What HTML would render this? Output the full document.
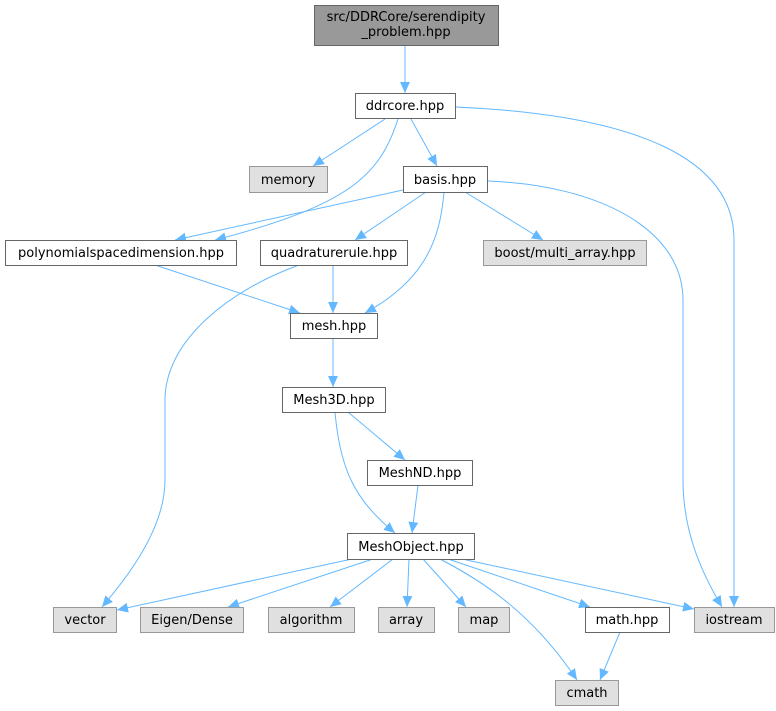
<!DOCTYPE html>
<html><head><meta charset="utf-8"><style>
html,body{margin:0;padding:0;background:#fff;}
svg{display:block;}
text{font-family:"DejaVu Sans","Liberation Sans",sans-serif;font-size:13px;fill:#000;text-anchor:middle;}
.w{fill:#fff;stroke:#666;stroke-width:1;}
.g{fill:#e0e0e0;stroke:#999;stroke-width:1;}
.e{fill:none;stroke:#63b8ff;stroke-width:1;}
</style></head><body>
<svg width="776" height="711" viewBox="0 0 776 711" xmlns="http://www.w3.org/2000/svg">
<defs><marker id="a" viewBox="0 0 10 10" refX="10" refY="5" markerWidth="11" markerHeight="11" markerUnits="userSpaceOnUse" orient="auto"><path d="M0,0.5 L10,5 L0,9.5 Z" fill="#63b8ff"/></marker></defs>
<g marker-end="url(#a)">
<path class="e" d="M405,45 L405,93"/>
<path class="e" d="M385,119 L313,166"/>
<path class="e" d="M398,119 C380,175 350,205 215,240"/>
<path class="e" d="M411,119 L437,166"/>
<path class="e" d="M455,107 C640,115 734,160 734,240 L734,607"/>
<path class="e" d="M403,190 L175,240"/>
<path class="e" d="M426,192 L355,240"/>
<path class="e" d="M444,192 C440,240 425,280 365,313"/>
<path class="e" d="M465,192 L543,240"/>
<path class="e" d="M487,181 C600,185 683,230 683,300 L683,480 C683,530 700,570 722,607"/>
<path class="e" d="M155,265 L300,313"/>
<path class="e" d="M333,265 L333,313"/>
<path class="e" d="M299,265 C230,290 165,340 165,400 L165,480 C165,530 125,580 102,607"/>
<path class="e" d="M333,338 L333,387"/>
<path class="e" d="M348,412 L405,460"/>
<path class="e" d="M335,412 C340,470 355,500 395,533"/>
<path class="e" d="M418,485 L412,533"/>
<path class="e" d="M352,559 L117,610"/>
<path class="e" d="M373,559 L228,607"/>
<path class="e" d="M393,559 L330,607"/>
<path class="e" d="M409,559 L407,607"/>
<path class="e" d="M423,559 L466,607"/>
<path class="e" d="M440,559 C480,580 530,610 577,680"/>
<path class="e" d="M448,559 L590,607"/>
<path class="e" d="M462,559 L694,609"/>
<path class="e" d="M620,632 L600,680"/>
</g>
<rect x="314.5" y="5.5" width="184" height="40" fill="#999" stroke="#666"/>
<text x="406" y="21">src/DDRCore/serendipity</text>
<text x="406" y="36">_problem.hpp</text>
<rect class="w" x="355.5" y="93.5" width="100" height="25"/><text x="405" y="110">ddrcore.hpp</text>
<rect class="g" x="249.5" y="166.5" width="78" height="26"/><text x="288" y="184">memory</text>
<rect class="w" x="403.5" y="166.5" width="84" height="26"/><text x="445" y="184">basis.hpp</text>
<rect class="w" x="5.5" y="240.5" width="231" height="25"/><text x="121" y="257">polynomialspacedimension.hpp</text>
<rect class="w" x="260.5" y="240.5" width="147" height="25"/><text x="334" y="257">quadraturerule.hpp</text>
<rect class="g" x="483.5" y="240.5" width="163" height="25"/><text x="565" y="257">boost/multi_array.hpp</text>
<rect class="w" x="290.5" y="313.5" width="87" height="25"/><text x="334" y="330">mesh.hpp</text>
<rect class="w" x="282.5" y="387.5" width="103" height="25"/><text x="334" y="404">Mesh3D.hpp</text>
<rect class="w" x="367.5" y="460.5" width="105" height="25"/><text x="420" y="477">MeshND.hpp</text>
<rect class="w" x="347.5" y="533.5" width="127" height="26"/><text x="411" y="551">MeshObject.hpp</text>
<rect class="g" x="53.5" y="607.5" width="63" height="25"/><text x="85" y="624">vector</text>
<rect class="g" x="140.5" y="607.5" width="103" height="25"/><text x="192" y="624">Eigen/Dense</text>
<rect class="g" x="268.5" y="607.5" width="86" height="25"/><text x="311" y="624">algorithm</text>
<rect class="g" x="378.5" y="607.5" width="56" height="25"/><text x="406" y="624">array</text>
<rect class="g" x="458.5" y="607.5" width="51" height="25"/><text x="484" y="624">map</text>
<rect class="w" x="585.5" y="607.5" width="84" height="25"/><text x="627" y="624">math.hpp</text>
<rect class="g" x="694.5" y="607.5" width="80" height="25"/><text x="734" y="624">iostream</text>
<rect class="g" x="555.5" y="680.5" width="63" height="25"/><text x="587" y="697">cmath</text>
</svg>
</body></html>
